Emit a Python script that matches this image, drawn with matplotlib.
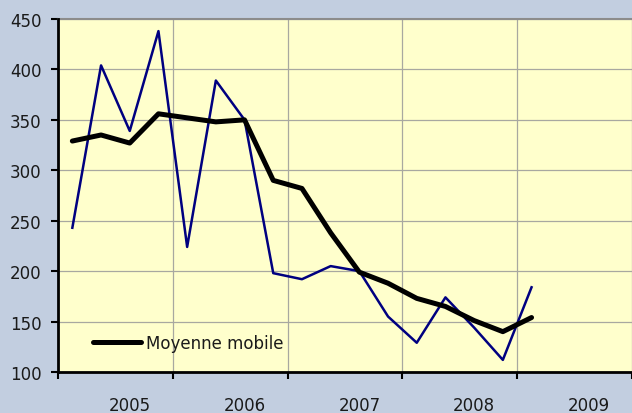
import matplotlib
matplotlib.use("Agg")
import matplotlib.pyplot as plt
import numpy as np

# Quarterly data (categories 0..16)
values = [243, 404, 339, 438, 224, 389, 350, 198, 192, 205, 200, 155, 129, 174, 144, 112, 184]
moving_avg = [329, 335, 327, 356, 352, 348, 350, 290, 282, 238, 199, 188, 173, 165, 151, 140, 154]
year_labels = ["2005", "2006", "2007", "2008", "2009"]
n_categories = 20

fig = plt.figure(figsize=(6.32, 4.14), dpi=100)
fig.patch.set_facecolor("#c2cee0")
ax = fig.add_axes([58/632, 41/414, 1 - 58/632, (373-20)/414])
ax.set_facecolor("#ffffcc")

x = np.arange(len(values))
ax.plot(x, values, color="#000080", lw=1.8, zorder=3)
line_ma, = ax.plot(x, moving_avg, color="black", lw=3.6, solid_capstyle="round", zorder=4,
                   label="Moyenne mobile")

ax.set_xlim(-0.5, n_categories - 0.5)
ax.set_ylim(100, 450)
ax.set_yticks(np.arange(100, 451, 50))

major = np.arange(-0.5, n_categories, 4)
ax.set_xticks(major)
ax.set_xticklabels([""] * len(major))
ax.set_xticks(np.arange(2, n_categories, 4), minor=True)
ax.set_xticklabels(year_labels, minor=True)

ax.tick_params(axis="x", which="major", direction="out", length=5, width=1.5, color="black")
ax.tick_params(axis="x", which="minor", length=0, pad=17, labelsize=12, labelcolor="#1a1a1a")
ax.tick_params(axis="y", direction="out", length=5, width=1.5, pad=7, labelsize=12,
               labelcolor="#1a1a1a")

ax.grid(True, which="major", color="#a8a8a0", lw=0.9, zorder=1)
ax.set_axisbelow(True)

for s in ["top", "right"]:
    ax.spines[s].set_visible(False)
ax.spines["left"].set_linewidth(2)
ax.spines["bottom"].set_linewidth(2)
ax.axhline(450, color="#8c8c8c", lw=1.5, zorder=2, clip_on=False)

leg = ax.legend(handles=[line_ma], loc="lower left", bbox_to_anchor=(0.035, 0.015),
                frameon=False, fontsize=12, handlelength=2.9, handletextpad=0.3)
for t in leg.get_texts():
    t.set_color("#1a1a1a")

fig.savefig("out.png", dpi=100, facecolor=fig.get_facecolor())
